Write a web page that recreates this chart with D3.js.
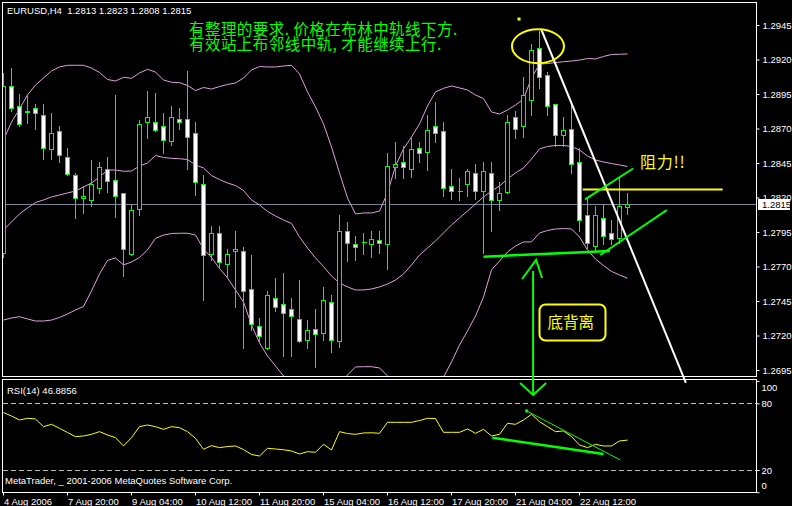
<!DOCTYPE html>
<html><head><meta charset="utf-8">
<script src="https://cdn.jsdelivr.net/npm/d3@7"></script>
<style>html,body{margin:0;padding:0;background:#000;overflow:hidden}svg{display:block}</style>
</head><body>
<svg id="c" width="792" height="506"></svg>
<script>
// ---------- DATA (EURUSD H4) ----------
const openP  = [1.2780,1.2901,1.2886,1.2883,1.2885,1.2880,1.2855,1.2868,1.2849,1.2836,1.2820,1.2818,1.2827,1.2841,1.2833,1.2823,1.2779,1.2812,1.2875,1.2875,
                1.2872,1.2861,1.2877,1.2877,1.2867,1.2830,1.2779,1.2794,1.2772,1.2781,1.2781,1.2754,1.2727,1.2711,1.2747,1.2743,1.2739,1.2732,1.2717,1.2725,
                1.2722,1.2744,1.2716,1.2796,1.2786,1.2788,1.2786,1.2789,1.2786,1.2842,1.2846,1.2841,1.2856,1.2853,1.2872,1.2868,1.2828,1.2825,1.2830,1.2838,
                1.2825,1.2838,1.2818,1.2824,1.2878,1.2872,1.2891,1.2928,1.2909,1.2888,1.2865,1.2870,1.2846,1.2807,1.2785,1.2805,1.2794,1.2791,1.2813];
const highP  = [1.2910,1.2914,1.2895,1.2894,1.2888,1.2888,1.2881,1.2872,1.2856,1.2838,1.2828,1.2847,1.2846,1.2849,1.2894,1.2823,1.2815,1.2876,1.2897,1.2896,
                1.2881,1.2886,1.2885,1.2912,1.2875,1.2836,1.2799,1.2799,1.2783,1.2796,1.2784,1.2778,1.2733,1.2752,1.2762,1.2765,1.2747,1.2760,1.2731,1.2739,
                1.2755,1.2749,1.2807,1.2802,1.2792,1.2794,1.2796,1.2796,1.2852,1.2860,1.2857,1.2863,1.2860,1.2880,1.2889,1.2875,1.2841,1.2834,1.2841,1.2844,
                1.2846,1.2846,1.2831,1.2880,1.2883,1.2907,1.2931,1.2941,1.2911,1.2888,1.2878,1.2886,1.2856,1.2819,1.2814,1.2815,1.2804,1.2834,1.2823];
const lowP   = [1.2777,1.2883,1.2872,1.2874,1.2870,1.2848,1.2848,1.2846,1.2836,1.2805,1.2809,1.2814,1.2823,1.2824,1.2806,1.2763,1.2778,1.2807,1.2863,1.2868,
                1.2852,1.2858,1.2870,1.2841,1.2822,1.2746,1.2775,1.2769,1.2763,1.2741,1.2711,1.2724,1.2716,1.2710,1.2738,1.2705,1.2705,1.2715,1.2711,1.2697,
                1.2717,1.2708,1.2712,1.2774,1.2775,1.2779,1.2777,1.2780,1.2768,1.2834,1.2834,1.2835,1.2846,1.2840,1.2860,1.2821,1.2819,1.2818,1.2821,1.2819,
                1.2780,1.2796,1.2811,1.2823,1.2863,1.2864,1.2880,1.2899,1.2880,1.2857,1.2857,1.2838,1.2796,1.2783,1.2781,1.2786,1.2786,1.2787,1.2808];
const closeP = [1.2901,1.2885,1.2873,1.2882,1.2881,1.2856,1.2867,1.2851,1.2837,1.2820,1.2821,1.2830,1.2842,1.2832,1.2821,1.2783,1.2811,1.2873,1.2878,1.2869,
                1.2862,1.2878,1.2875,1.2864,1.2831,1.2778,1.2794,1.2773,1.2779,1.2783,1.2752,1.2728,1.2720,1.2749,1.2741,1.2736,1.2734,1.2716,1.2724,1.2721,
                1.2746,1.2717,1.2796,1.2787,1.2784,1.2788,1.2790,1.2787,1.2843,1.2844,1.2842,1.2855,1.2852,1.2869,1.2867,1.2827,1.2825,1.2825,1.2839,1.2825,
                1.2839,1.2818,1.2823,1.2875,1.2870,1.2894,1.2927,1.2907,1.2886,1.2865,1.2869,1.2844,1.2804,1.2787,1.2807,1.2792,1.2790,1.2814,1.2815];
const bbUpper = [1.28617,1.28747,1.28841,1.28943,1.29015,1.29066,1.29117,1.29146,1.29158,1.29158,1.29158,1.29138,1.29106,1.29055,1.29044,1.29071,1.29064,1.29102,1.29129,1.29109,
                 1.29051,1.29035,1.29032,1.29012,1.28975,1.28997,1.28986,1.29004,1.29019,1.29030,1.29066,1.29124,1.29149,1.29146,1.29146,1.29153,1.29158,1.29095,1.28965,1.28856,
                 1.28733,1.28566,1.28378,1.28196,1.28081,1.28088,1.28088,1.28102,1.28233,1.28428,1.28552,1.28638,1.28733,1.28863,1.28965,1.28991,1.29008,1.28994,1.28979,1.28943,
                 1.28917,1.28820,1.28805,1.28834,1.28870,1.28914,1.29066,1.29167,1.29171,1.29178,1.29184,1.29189,1.29196,1.29207,1.29204,1.29222,1.29236,1.29238,1.29240];
const bbMiddle = [1.27965,1.28023,1.28081,1.28124,1.28164,1.28182,1.28204,1.28218,1.28233,1.28247,1.28276,1.28305,1.28349,1.28399,1.28399,1.28390,1.28392,1.28428,1.28450,1.28504,
                  1.28490,1.28484,1.28481,1.28475,1.28436,1.28414,1.28359,1.28330,1.28305,1.28287,1.28251,1.28182,1.28146,1.28099,1.28066,1.28037,1.28012,1.27914,1.27834,1.27762,
                  1.27700,1.27631,1.27581,1.27552,1.27530,1.27530,1.27537,1.27552,1.27573,1.27602,1.27646,1.27711,1.27783,1.27834,1.27885,1.27943,1.28001,1.28052,1.28102,1.28153,
                  1.28204,1.28247,1.28283,1.28334,1.28378,1.28414,1.28479,1.28552,1.28570,1.28577,1.28577,1.28570,1.28544,1.28501,1.28472,1.28457,1.28446,1.28436,1.28425];
const bbLower = [1.27312,1.27327,1.27336,1.27320,1.27305,1.27305,1.27312,1.27331,1.27356,1.27385,1.27410,1.27523,1.27646,1.27744,1.27762,1.27711,1.27733,1.27765,1.27820,1.27904,
                 1.27928,1.27939,1.27941,1.27941,1.27928,1.27827,1.27765,1.27686,1.27617,1.27530,1.27443,1.27276,1.27146,1.27052,1.26979,1.26907,1.26863,1.26733,1.26704,1.26668,
                 1.26668,1.26697,1.26791,1.26914,1.26972,1.26974,1.26974,1.26965,1.26907,1.26791,1.26747,1.26762,1.26791,1.26805,1.26820,1.26899,1.27008,1.27131,1.27233,1.27341,
                 1.27479,1.27675,1.27740,1.27805,1.27849,1.27878,1.27878,1.27943,1.27961,1.27972,1.27975,1.27972,1.27914,1.27820,1.27754,1.27707,1.27664,1.27639,1.27615];
const rsi14 = [71.7,68.6,65.0,66.5,65.9,59.0,61.1,57.5,53.7,50.0,50.6,52.1,54.5,51.5,49.1,41.6,49.1,59.0,60.5,59.0,
               56.6,59.0,58.1,54.5,48.5,38.6,41.9,40.1,41.1,41.6,38.4,33.9,32.6,39.5,38.9,38.2,37.1,34.4,36.5,35.9,
               43.1,38.0,54.5,52.8,52.1,53.3,53.5,53.0,62.9,62.9,62.9,62.9,64.5,66.5,66.3,53.9,53.9,53.9,56.9,53.0,
               56.6,50.6,52.1,62.0,61.1,65.0,70.1,63.5,59.0,54.5,55.1,50.0,42.5,40.1,43.1,41.6,41.6,46.1,46.8856];
const priceTicks = [1.2695,1.2720,1.2745,1.2770,1.2795,1.2820,1.2845,1.2870,1.2895,1.2920,1.2945];
const rsiTicks = [100,80,20,0];
const timeTickIdx = [0,8,16,24,32,40,48,56,64,72];
const timeLabels = ["4 Aug 2006","7 Aug 20:00","9 Aug 04:00","10 Aug 12:00","11 Aug 20:00","15 Aug 04:00","16 Aug 12:00","17 Aug 20:00","21 Aug 04:00","22 Aug 12:00"];
const lastPrice = 1.2815;
const titleText = "EURUSD,H4  1.2813 1.2823 1.2808 1.2815";
const rsiTitle = "RSI(14) 46.8856";
const copyright = "MetaTrader, _ 2001-2006 MetaQuotes Software Corp.";
const noteLines = ["有整理的要求. 价格在布林中轨线下方.", "有效站上布邻线中轨, 才能继续上行."];
const resistText = "阻力!!";
const divergenceText = "底背离";
// annotations in (bar index, price) / (bar index, RSI) units
const whiteTrend = [[67.2,1.29421],[85.3,1.26857]];
const resistLine = [[72.4,1.28258],[89.9,1.28258]];
const greenUpper = [[72.7,1.28187],[78.7,1.28410]];
const greenLower = [[74.6,1.27783],[82.9,1.28109]];
const greenSupport = [[60.0,1.27771],[75.8,1.27812]];
const rsiSupport = [[61.1,49.1],[75.0,34.4]];
const rsiTrend = [[65.4,73.1],[77.1,29.0]];
const arrowIdx = 66.2, arrowTopPrice = 1.27747, arrowBottomRsi = 87.5;
const peakMark = [66.81,1.29296];
const dotMark = [64.44,1.29493];

// ---------- DRAW ----------
const svg = d3.select('#c');
const FONT = "'Liberation Sans', Arial, sans-serif";
const CJK = "'Noto Sans CJK SC', sans-serif";
const LIME = '#00ff00', YEL = '#ffff00', PLUM = '#dda0dd';
svg.append('rect').attr('width',792).attr('height',506).attr('fill','#000');

const x = d3.scaleLinear().domain([0,78]).range([3.5,627.5]);
const y = d3.scaleLinear().domain([1.2695,1.2945]).range([370,25]);
const yr = d3.scaleLinear().domain([0,100]).range([492.2,381.1]);

const defs = svg.append('defs');
defs.append('clipPath').attr('id','mainClip').append('rect').attr('x',3).attr('y',3).attr('width',753).attr('height',373);
defs.append('clipPath').attr('id','rsiClip').append('rect').attr('x',3).attr('y',380).attr('width',753).attr('height',112);

// current price line
svg.append('line').attr('x1',2.5).attr('x2',756.5).attr('y1',Math.round(y(lastPrice))+0.5).attr('y2',Math.round(y(lastPrice))+0.5)
  .attr('stroke','#778899').attr('stroke-width',1);

const main = svg.append('g').attr('clip-path','url(#mainClip)');
const bandLine = d3.line().x((d,i)=>x(i)).y(d=>y(d));
[bbUpper,bbMiddle,bbLower].forEach(b=>{
  main.append('path').attr('d',bandLine(b)).attr('fill','none').attr('stroke',PLUM).attr('stroke-width',1);
});

const cg = main.append('g').attr('shape-rendering','crispEdges');
openP.forEach((o,i)=>{
  const c = closeP[i], X = x(i);
  cg.append('line').attr('x1',X).attr('x2',X).attr('y1',Math.round(y(highP[i]))).attr('y2',Math.round(y(lowP[i]))+1)
    .attr('stroke',LIME).attr('stroke-width',1);
  const t = Math.round(y(Math.max(o,c))), b = Math.round(y(Math.min(o,c)));
  if (b - t < 1) {
    cg.append('line').attr('x1',X-2).attr('x2',X+3).attr('y1',t+0.5).attr('y2',t+0.5).attr('stroke',LIME).attr('stroke-width',1);
  } else {
    cg.append('rect').attr('x',X-2).attr('y',t+0.5).attr('width',4).attr('height',b-t)
      .attr('fill', c < o ? '#ffffff' : '#000000').attr('stroke',LIME).attr('stroke-width',1);
  }
});

// RSI panel
const rsiG = svg.append('g').attr('clip-path','url(#rsiClip)');
[80,20].forEach(v=>{
  rsiG.append('line').attr('x1',3).attr('x2',756).attr('y1',Math.round(yr(v))+0.5).attr('y2',Math.round(yr(v))+0.5)
    .attr('stroke','#c0c0c0').attr('stroke-dasharray','5,3').attr('stroke-width',1);
});
rsiG.append('path').attr('d',d3.line().x((d,i)=>x(i)).y(d=>yr(d))(rsi14)).attr('fill','none').attr('stroke',YEL).attr('stroke-width',1);

// frames
svg.append('rect').attr('x',2.5).attr('y',2.5).attr('width',754).attr('height',374).attr('fill','none').attr('stroke','#fff').attr('stroke-width',1);
svg.append('rect').attr('x',2.5).attr('y',379.5).attr('width',754).attr('height',113).attr('fill','none').attr('stroke','#fff').attr('stroke-width',1);

// price axis
const pAxis = svg.append('g').attr('transform','translate(756.5,0)')
  .call(d3.axisRight(y).tickValues(priceTicks).tickSize(3).tickPadding(3).tickFormat(d3.format('.4f')));
pAxis.select('.domain').remove();
pAxis.selectAll('line').attr('stroke','#fff');
pAxis.selectAll('text').attr('fill','#fff').attr('font-family',FONT).attr('font-size','9.5px');
// last price box (drawn over the neighbouring axis label, as in the terminal)
const lpY = y(lastPrice);
svg.append('rect').attr('x',758).attr('y',Math.round(lpY)-5).attr('width',32).attr('height',11).attr('fill','#fff');
svg.append('text').attr('x',762).attr('y',Math.round(lpY)+4).text(d3.format('.4f')(lastPrice))
  .attr('fill','#000').attr('font-family',FONT).attr('font-size','9.5px');

// rsi axis
const rAxis = svg.append('g').attr('transform','translate(756.5,0)')
  .call(d3.axisRight(yr).tickValues(rsiTicks).tickSize(3).tickPadding(2).tickFormat(d3.format('d')));
rAxis.select('.domain').remove();
rAxis.selectAll('line').attr('stroke','#fff');
rAxis.selectAll('text').attr('fill','#fff').attr('font-family',FONT).attr('font-size','9.5px')
  .attr('dy',d=> d===100 ? '1.0em' : (d===0 ? '-0.35em' : '0.32em'));

// time axis
const tAxis = svg.append('g').attr('transform','translate(-0.5,492.5)')
  .call(d3.axisBottom(x).tickValues(timeTickIdx).tickSize(3).tickPadding(0).tickFormat((d,i)=>timeLabels[i]));
tAxis.select('.domain').remove();
tAxis.selectAll('line').attr('stroke','#fff');
tAxis.selectAll('text').attr('fill','#fff').attr('font-family',FONT).attr('font-size','9.5px')
  .attr('text-anchor','start').attr('dy',null).attr('y',12.5).attr('x',0.5);

// texts
svg.append('text').attr('x',7).attr('y',14).attr('fill','#fff').attr('font-family',FONT).attr('font-size','9.5px')
  .style('white-space','pre').text(titleText);
svg.append('text').attr('x',7).attr('y',393.5).attr('fill','#fff').attr('font-family',FONT).attr('font-size','9.5px').text(rsiTitle);
svg.append('text').attr('x',5).attr('y',484).attr('fill','#fff').attr('font-family',FONT).attr('font-size','9.5px').text(copyright);

const note = svg.append('text').attr('fill',LIME).attr('font-family',CJK)
  .attr('font-size','15.5px').attr('letter-spacing','0.45px').style('white-space','pre');
noteLines.forEach((t,i)=>{
  note.append('tspan').attr('x',189).attr('y',34.5+i*15.5).text(t);
});

// annotations (main)
const seg = (pts, sx, sy) => d3.line().x(d=>sx(d[0])).y(d=>sy(d[1]))(pts);
svg.append('path').attr('d',seg(whiteTrend,x,y)).attr('stroke','#fff').attr('stroke-width',2).attr('fill','none');
svg.append('path').attr('d',seg(resistLine,x,y)).attr('stroke',YEL).attr('stroke-width',2).attr('fill','none');
svg.append('path').attr('d',seg(greenUpper,x,y)).attr('stroke',LIME).attr('stroke-width',2).attr('fill','none');
svg.append('path').attr('d',seg(greenLower,x,y)).attr('stroke',LIME).attr('stroke-width',2).attr('fill','none');
svg.append('path').attr('d',seg(greenSupport,x,y)).attr('stroke',LIME).attr('stroke-width',2.5).attr('fill','none');
svg.append('ellipse').attr('cx',x(peakMark[0])).attr('cy',y(peakMark[1])).attr('rx',26).attr('ry',17)
  .attr('fill','none').attr('stroke',YEL).attr('stroke-width',2);
svg.append('rect').attr('x',x(dotMark[0])-1.5).attr('y',y(dotMark[1])-1.5).attr('width',3).attr('height',3).attr('fill',YEL);

// vertical double arrow
const ax = x(arrowIdx), aTop = y(arrowTopPrice), aBot = yr(arrowBottomRsi);
svg.append('line').attr('x1',ax).attr('x2',ax).attr('y1',aTop+11).attr('y2',aBot).attr('stroke',LIME).attr('stroke-width',2);
svg.append('path').attr('d',`M${ax-11},${aTop+19}L${ax+3},${aTop}L${ax+9},${aTop+18}`).attr('stroke',LIME).attr('stroke-width',2).attr('fill','none');
svg.append('path').attr('d',`M${ax-13},${aBot-12}L${ax},${aBot}L${ax+13},${aBot-12}`).attr('stroke',LIME).attr('stroke-width',2).attr('fill','none');

svg.append('text').attr('x',640).attr('y',168).attr('fill',YEL).attr('font-family',CJK).attr('font-size','16px').attr('letter-spacing','0.8px').text(resistText);
svg.append('rect').attr('x',539.5).attr('y',304.5).attr('width',66).attr('height',36).attr('rx',6).attr('ry',6)
  .attr('fill','none').attr('stroke',YEL).attr('stroke-width',2);
svg.append('text').attr('x',547.5).attr('y',328).attr('fill',YEL).attr('font-family',CJK).attr('font-size','15.5px').text(divergenceText);

// RSI annotations
svg.append('path').attr('d',seg(rsiSupport,x,yr)).attr('stroke',LIME).attr('stroke-width',2.5).attr('fill','none');
svg.append('path').attr('d',seg(rsiTrend,x,yr)).attr('stroke',LIME).attr('stroke-width',1).attr('fill','none');
svg.append('rect').attr('x',x(rsiTrend[0][0])-1.5).attr('y',yr(rsiTrend[0][1])-1.5).attr('width',3).attr('height',3).attr('fill',LIME);
</script>
</body></html>
